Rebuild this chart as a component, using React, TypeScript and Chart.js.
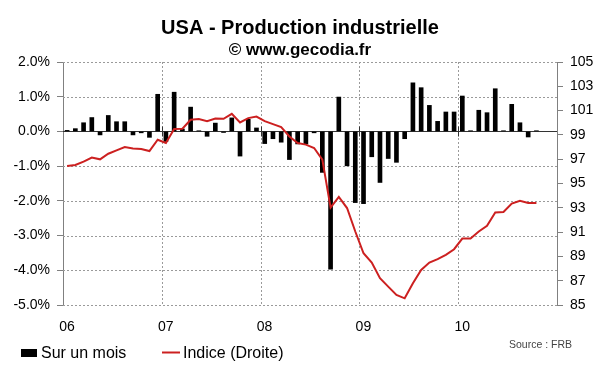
import React, { useEffect, useRef } from 'react';
import { Chart, registerables } from 'chart.js';

Chart.register(...registerables);

// Year labels (one per January)
const yearLabels = ['06', '07', '08', '09', '10'];

// Monthly change of US industrial production, Jan 2006 .. Oct 2010 (%)
const monthlyChange = [
  0.03, 0.08, 0.25, 0.40, -0.10, 0.46, 0.28, 0.28, -0.10, -0.04, -0.17, 1.07,
  -0.29, 1.13, 0.07, 0.70, 0.02, -0.14, 0.24, -0.03, 0.39, -0.71, 0.35, 0.10,
  -0.35, -0.21, -0.31, -0.81, -0.36, -0.36, -0.04, -1.18, -3.97, 0.99, -0.99, -2.05,
  -2.08, -0.73, -1.47, -0.78, -0.89, -0.21, 1.40, 1.26, 0.75, 0.29, 0.56, 0.56,
  1.02, 0.02, 0.61, 0.54, 1.23, 0.02, 0.78, 0.25, -0.16, 0.02,
];

// Industrial production index (right axis), Jan 2006 .. Oct 2010
const indexValues = [
  96.44, 96.52, 96.80, 97.13, 96.99, 97.45, 97.73, 98.00, 97.89, 97.84, 97.67, 98.60,
  98.33, 99.48, 99.51, 100.24, 100.30, 100.13, 100.35, 100.33, 100.73, 100.02, 100.38, 100.51,
  100.13, 99.89, 99.64, 98.87, 98.33, 98.20, 97.92, 96.96, 93.02, 93.90, 92.98, 91.05,
  89.26, 88.49, 87.20, 86.51, 85.83, 85.55, 86.79, 87.89, 88.49, 88.77, 89.13, 89.59,
  90.47, 90.47, 91.05, 91.52, 92.62, 92.65, 93.34, 93.58, 93.39, 93.39,
];

const yearTicks = [0, 12, 24, 36, 48];
const leftTicks = [-5, -4, -3, -2, -1, 0, 1, 2];

const titleText = 'USA - Production industrielle';
const subtitleText = '\u00A9 www.gecodia.fr';
const barLabel = 'Sur un mois';
const lineLabel = 'Indice (Droite)';
const sourceText = 'Source : FRB';

const FONT = "'Liberation Sans', Arial, Helvetica, sans-serif";
const RED = '#cc2020';
const GRID = '#9a9a9a';
const AXIS = '#808080';

const overlayPlugin = {
  id: 'overlay',
  beforeDatasetsDraw(chart: any) {
    const { ctx, chartArea } = chart;
    const ys = chart.scales.y;
    const xs = chart.scales.x;
    ctx.save();
    // dotted grid
    ctx.strokeStyle = GRID;
    ctx.lineWidth = 1;
    ctx.setLineDash([2, 2]);
    leftTicks.forEach((v) => {
      if (v === 0) return;
      const y = Math.round(ys.getPixelForValue(v)) + 0.5;
      ctx.beginPath();
      ctx.moveTo(chartArea.left, y);
      ctx.lineTo(chartArea.right, y);
      ctx.stroke();
    });
    yearTicks.forEach((v) => {
      if (v === 0) return;
      const x = Math.round(xs.getPixelForValue(v)) + 0.5;
      ctx.beginPath();
      ctx.moveTo(x, chartArea.top);
      ctx.lineTo(x, chartArea.bottom);
      ctx.stroke();
    });
    ctx.setLineDash([]);
    // zero axis line with year ticks
    const y0 = Math.round(ys.getPixelForValue(0)) + 0.5;
    ctx.strokeStyle = '#333';
    ctx.beginPath();
    ctx.moveTo(chartArea.left, y0);
    ctx.lineTo(chartArea.right, y0);
    ctx.stroke();
    yearTicks.forEach((v) => {
      if (v === 0) return;
      const x = Math.round(xs.getPixelForValue(v)) + 0.5;
      ctx.beginPath();
      ctx.moveTo(x, y0 - 5);
      ctx.lineTo(x, y0 + 5);
      ctx.stroke();
    });
    ctx.restore();
  },
  afterDraw(chart: any) {
    const { ctx } = chart;
    ctx.save();
    ctx.fillStyle = '#000';
    ctx.textAlign = 'center';
    ctx.textBaseline = 'alphabetic';
    ctx.font = `bold 20px ${FONT}`;
    ctx.fillText(titleText, 300, 34);
    ctx.font = `bold 17px ${FONT}`;
    ctx.fillText(subtitleText, 300, 55);

    // legend
    ctx.textAlign = 'left';
    ctx.fillStyle = '#000';
    ctx.fillRect(21, 349, 16, 8);
    ctx.font = `16px ${FONT}`;
    ctx.fillText(barLabel, 41, 358);
    ctx.strokeStyle = RED;
    ctx.lineWidth = 2;
    ctx.beginPath();
    ctx.moveTo(162, 352.5);
    ctx.lineTo(180, 352.5);
    ctx.stroke();
    ctx.fillStyle = '#000';
    ctx.fillText(lineLabel, 183, 358);

    ctx.fillStyle = '#444';
    ctx.font = `10.5px ${FONT}`;
    ctx.fillText(sourceText, 509, 348);
    ctx.restore();
  },
};

export default function App() {
  const ref = useRef<HTMLCanvasElement | null>(null);

  useEffect(() => {
    if (!ref.current) return;
    const barData = monthlyChange.map((v, i) => ({ x: i + 0.5, y: v }));
    const lineData = indexValues.map((v, i) => ({ x: i + 0.5, y: v }));
    const chart = new Chart(ref.current, {
      type: 'bar',
      data: {
        datasets: [
          {
            type: 'line',
            label: lineLabel,
            data: lineData,
            yAxisID: 'y1',
            borderColor: RED,
            borderWidth: 2,
            pointRadius: 0,
            tension: 0,
            order: 0,
          } as any,
          {
            type: 'bar',
            label: barLabel,
            data: barData,
            yAxisID: 'y',
            backgroundColor: '#000',
            barThickness: 4,
            order: 1,
          } as any,
        ],
      },
      options: {
        animation: false,
        responsive: false,
        layout: { padding: { top: 62, left: 0, right: 0, bottom: 0 } },
        plugins: {
          legend: { display: false },
          tooltip: { enabled: false },
          title: { display: false },
        },
        scales: {
          x: {
            type: 'linear',
            offset: false,
            min: 0,
            max: 60,
            afterBuildTicks: (s: any) => {
              s.ticks = yearTicks.map((v) => ({ value: v }));
            },
            afterFit: (s: any) => {
              s.height = 67;
            },
            ticks: {
              callback: (v: any) => yearLabels[Math.round(v / 12)] ?? '',
              labelOffset: 4,
              padding: 14,
              maxRotation: 0,
              autoSkip: false,
              color: '#000',
              font: { family: FONT, size: 14 },
            },
            grid: { display: false, drawTicks: false },
            border: { display: false },
          },
          y: {
            type: 'linear',
            position: 'left',
            min: -5,
            max: 2,
            afterFit: (s: any) => {
              s.width = 63;
            },
            ticks: {
              stepSize: 1,
              callback: (v: any) => Number(v).toFixed(1) + '%',
              padding: 7,
              color: '#000',
              font: { family: FONT, size: 14 },
            },
            grid: {
              drawOnChartArea: false,
              tickColor: AXIS,
              tickLength: 6,
              drawTicks: true,
            },
            border: { display: true, color: AXIS, width: 1 },
          },
          y1: {
            type: 'linear',
            position: 'right',
            min: 85,
            max: 105,
            afterFit: (s: any) => {
              s.width = 43;
            },
            ticks: {
              stepSize: 2,
              padding: 7,
              color: '#000',
              font: { family: FONT, size: 14 },
            },
            grid: {
              drawOnChartArea: false,
              tickColor: AXIS,
              tickLength: 6,
              drawTicks: true,
            },
            border: { display: true, color: AXIS, width: 1 },
          },
        },
      },
      plugins: [overlayPlugin],
    });
    return () => chart.destroy();
  }, []);

  return (
    <div style={{ position: 'absolute', left: 0, top: 0, width: 600, height: 372, background: '#fff' }}>
      <canvas ref={ref} width={600} height={372} style={{ width: 600, height: 372, display: 'block' }} />
    </div>
  );
}
